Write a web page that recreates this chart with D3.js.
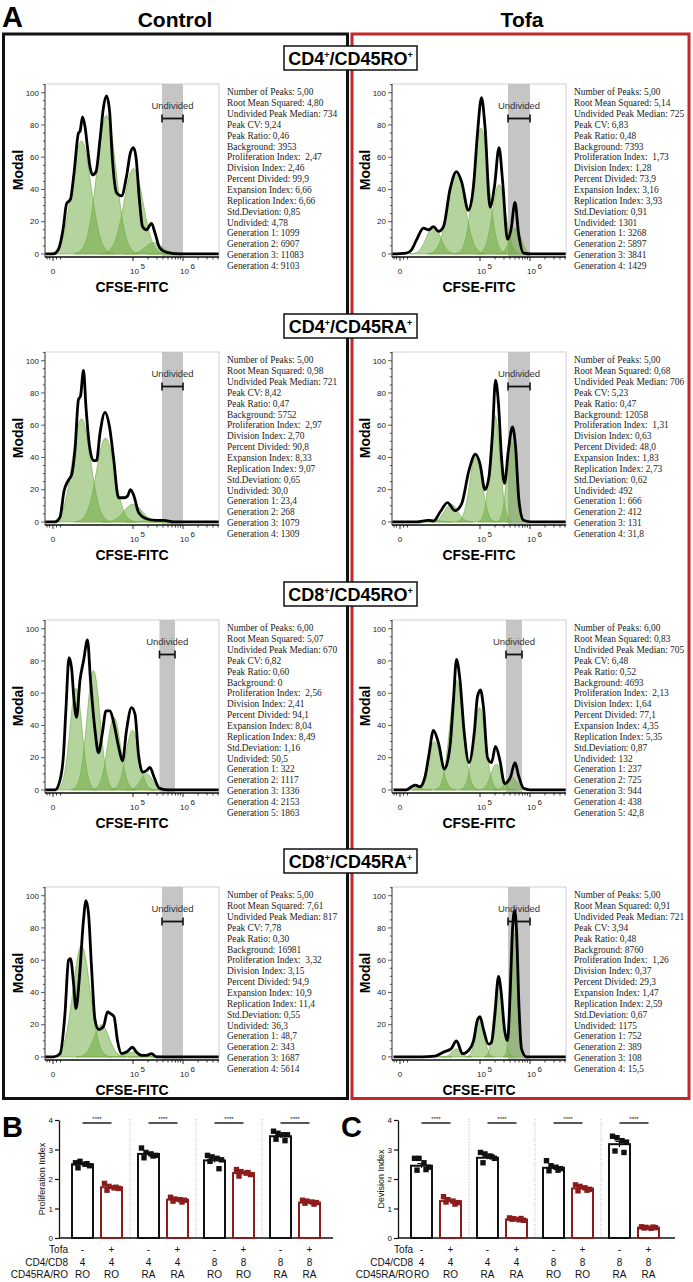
<!DOCTYPE html>
<html><head><meta charset="utf-8">
<script src="https://cdn.jsdelivr.net/npm/d3@7"></script>
<style>body{margin:0;background:#fff}svg{display:block}</style>
</head><body>
<svg id="c" width="693" height="1282"></svg>
<script>
// ---------------- DATA ----------------
const conditions = ["Control", "Tofa"];
const subsets = [["CD4", "CD45RO"], ["CD4", "CD45RA"], ["CD8", "CD45RO"], ["CD8", "CD45RA"]];

// histogram x values are log10 CFSE-FITC (display units), y = Modal (%)
const curveCtrlCD4RO = [[3.24,0],[3.41,0],[3.51,3],[3.61,17],[3.67,31],[3.75,34],[3.82,50],[3.91,75],[3.94,76],[3.99,85],[4.04,79],[4.09,66],[4.14,54],[4.19,49],[4.26,51],[4.34,71],[4.41,91],[4.47,98],[4.53,89],[4.59,58],[4.67,38],[4.77,36],[4.87,48],[4.95,63],[5.01,66],[5.06,60],[5.13,33],[5.19,17],[5.27,15],[5.37,19],[5.44,13],[5.53,4],[5.67,1],[5.94,0],[6.72,0]];
const curveTofaCD4RO = [[3.23,0],[3.53,0.5],[3.63,2.5],[3.73,8.7],[3.87,16],[3.97,15],[4.07,17],[4.17,14],[4.27,17],[4.40,40],[4.53,51],[4.63,45],[4.77,27],[4.87,42],[4.95,75],[5.03,97],[5.10,79],[5.20,29],[5.29,42],[5.38,66],[5.45,46],[5.55,9],[5.62,15],[5.70,32],[5.77,13],[5.87,0.5],[6.03,0],[6.72,0]];
const curveCtrlCD4RA = [[3.24,0],[3.44,0],[3.54,3],[3.62,19],[3.71,26],[3.77,29],[3.84,45],[3.91,76],[3.95,78],[4.01,94],[4.06,71],[4.13,47],[4.21,38],[4.27,38],[4.34,55],[4.44,68],[4.53,59],[4.61,40],[4.71,15],[4.82,15],[4.89,16],[4.95,20],[5.02,16],[5.11,6],[5.27,2],[5.47,1],[5.61,1],[5.81,0],[6.72,0]];
const curveTofaCD4RA = [[3.23,0],[3.73,0],[3.97,1],[4.07,0.5],[4.2,6],[4.35,12],[4.5,7],[4.63,11],[4.78,32],[4.91,42],[5.0,36],[5.1,20],[5.18,28],[5.25,55],[5.31,88],[5.37,73],[5.43,40],[5.49,24],[5.57,45],[5.65,59],[5.71,47],[5.78,13],[5.87,1],[6.03,0],[6.72,0]];
const curveCtrlCD8RO = [[3.24,0],[3.44,0],[3.54,6],[3.61,22],[3.66,51],[3.72,82],[3.77,76],[3.82,56],[3.87,45],[3.94,68],[4.01,80],[4.09,93],[4.15,68],[4.24,37],[4.31,23],[4.39,36],[4.46,49],[4.54,49],[4.62,41],[4.71,27],[4.79,18],[4.87,37],[4.97,51],[5.04,47],[5.11,22],[5.19,11],[5.27,12],[5.34,14],[5.42,8],[5.53,1],[5.71,0],[6.72,0]];
const curveTofaCD8RO = [[3.27,0],[3.53,0],[3.63,2],[3.71,3],[3.8,2],[3.9,8],[3.98,22],[4.07,37],[4.17,29],[4.29,13],[4.4,27],[4.47,56],[4.53,81],[4.6,68],[4.68,37],[4.78,17],[4.89,37],[4.95,58],[5.01,62],[5.07,51],[5.15,20],[5.23,17],[5.31,27],[5.4,18],[5.49,4],[5.61,8],[5.7,17],[5.77,9],[5.87,1],[6.0,0],[6.72,0]];
const curveCtrlCD8RA = [[3.24,0],[3.41,0],[3.54,2],[3.64,27],[3.71,60],[3.75,61],[3.81,46],[3.86,30],[3.93,50],[4.01,85],[4.06,97],[4.11,89],[4.17,56],[4.24,23],[4.31,17],[4.41,19],[4.49,28],[4.54,27],[4.62,25],[4.69,10],[4.77,2],[4.87,3],[4.99,6],[5.07,3],[5.17,1],[5.27,1],[5.37,2],[5.47,0],[5.81,0],[6.72,0]];
const curveTofaCD8RA = [[3.27,0],[3.83,0],[4.1,0.5],[4.27,3],[4.42,5],[4.53,10],[4.65,2],[4.77,4],[4.87,10],[4.95,23],[5.0,25],[5.07,17],[5.17,8],[5.23,9],[5.3,27],[5.37,50],[5.42,41],[5.49,17],[5.55,10],[5.6,37],[5.65,79],[5.69,91],[5.73,79],[5.78,31],[5.83,5],[5.93,0],[6.72,0]];

// fitted generation peaks: [centre (log10), height (Modal), sd (log10)]
const peaksCtrlCD4RO = [[3.97,70,0.19],[4.47,86,0.19],[5.01,53,0.19],[5.42,7,0.17],[5.8,1,0.15]];
const peaksTofaCD4RO = [[4.07,17,0.14],[4.53,51,0.17],[5.02,78,0.15],[5.38,43,0.13],[5.71,16,0.11]];
const peaksCtrlCD4RA = [[3.97,64,0.18],[4.45,52,0.18],[5.0,11,0.18],[5.47,1.5,0.18],[5.8,0.5,0.15]];
const peaksTofaCD4RA = [[4.02,1.5,0.13],[4.42,11,0.13],[4.92,42,0.12],[5.3,66,0.1],[5.63,50,0.09]];
const peaksCtrlCD8RO = [[3.86,63,0.12],[4.21,74,0.13],[4.62,45,0.13],[4.99,37,0.13],[5.27,10,0.12],[5.67,0.6,0.1]];
const peaksTofaCD8RO = [[3.7,2,0.1],[4.09,30,0.13],[4.53,68,0.13],[4.99,51,0.12],[5.33,16,0.11],[5.63,8,0.11]];
const peaksCtrlCD8RA = [[3.97,69,0.17],[4.37,20,0.15],[5.01,3,0.15],[5.41,0.8,0.15],[5.94,0.3,0.15]];
const peaksTofaCD8RA = [[4.1,0.5,0.1],[4.53,5,0.09],[5.0,24,0.085],[5.37,50,0.085],[5.69,77,0.065]];

// undivided gates [from, to] in log10 units
const gatesCtrl = [[5.58,6.0],[5.58,6.0],[5.53,5.84],[5.58,6.0]];
const gatesTofa = [[5.56,6.0],[5.56,6.0],[5.52,5.84],[5.56,6.0]];
const gateLabel = "Undivided";
const gateLevel = 84;

const yTicksHist = [0,20,40,60,80,100];
const xMajorHist = [[3.4,"0",""],[5,"10","5"],[6,"10","6"]];
const xMinorHist = [3.28,3.33,3.47,3.55,5.3,5.48,5.6,5.7,5.78,5.85,5.9,5.95,6.3,6.48,6.6,6.7];

const statLabels = ["Number of Peaks","Root Mean Squared","Undivided Peak Median","Peak CV","Peak Ratio","Background","Proliferation Index","Division Index","Percent Divided","Expansion Index","Replication Index","Std.Deviation","Undivided"];
const statsCtrlCD4RO = ["5,00","4,80","734","9,24","0,46","3953"," 2,47","2,46","99,9","6,66","6,66","0,85","4,78","1099","6907","11083","9103"];
const statsTofaCD4RO = ["5,00","5,14","725","6,83","0,48","7393"," 1,73","1,28","73,9","3,16","3,93","0,91","1301","3268","5897","3841","1429"];
const statsCtrlCD4RA = ["5,00","0,98","721","8,42","0,47","5752"," 2,97","2,70","90,8","8,33","9,07","0,65","30,0","23,4","268","1079","1309"];
const statsTofaCD4RA = ["5,00","0,68","706","5,23","0,47","12058"," 1,31","0,63","48,0","1,83","2,73","0,62","492","666","412","131","31,8"];
const statsCtrlCD8RO = ["6,00","5,07","670","6,82","0,60","0"," 2,56","2,41","94,1","8,04","8,49","1,16","50,5","322","1117","1336","2153","1863"];
const statsTofaCD8RO = ["6,00","0,83","705","6,48","0,52","4693"," 2,13","1,64","77,1","4,35","5,35","0,87","132","237","725","944","438","42,8"];
const statsCtrlCD8RA = ["5,00","7,61","817","7,78","0,30","16981"," 3,32","3,15","94,9","10,9","11,4","0,55","36,3","48,7","343","1687","5614"];
const statsTofaCD8RA = ["5,00","0,91","721","3,94","0,48","8760"," 1,26","0,37","29,3","1,47","2,59","0,67","1175","752","389","108","15,5"];

// bar charts B (Proliferation Index) and C (Devision Index)
const barGroups = ["4 RO","4 RA","8 RO","8 RA"];
const profCtrl = [2.50, 2.85, 2.63, 3.45];
const profTofa = [1.72, 1.30, 2.20, 1.20];
const profCtrlPts = [[2.55,2.6,2.5,2.45,2.38,2.52],[3.05,2.9,2.85,2.8,2.72,2.78],[2.8,2.75,2.7,2.65,2.6,2.35],[3.62,3.55,3.5,3.5,3.35,3.3]];
const profTofaPts = [[1.85,1.75,1.7,1.68,1.62,1.72],[1.38,1.32,1.3,1.28,1.25,1.22],[2.32,2.25,2.2,2.15,2.1,2.22],[1.28,1.25,1.22,1.2,1.18,1.15]];
const divCtrl = [2.45, 2.72, 2.38, 3.18];
const divTofa = [1.25, 0.63, 1.68, 0.35];
const divCtrlPts = [[2.7,2.7,2.55,2.4,2.3,2.32],[2.9,2.85,2.78,2.7,2.55,2.75],[2.62,2.45,2.4,2.35,2.28,2.3],[3.45,3.4,3.3,3.25,2.95,2.9]];
const divTofaPts = [[1.4,1.3,1.25,1.2,1.22,1.15],[0.68,0.65,0.62,0.6,0.64,0.66],[1.8,1.75,1.7,1.65,1.6,1.62],[0.38,0.36,0.33,0.35,0.34,0.37]];
const barYTicks = [0,1,2,3,4];
const sigLabel = "****";
const rowLabels = ["Tofa","CD4/CD8","CD45RA/RO"];
const rowTofa = ["-","+","-","+","-","+","-","+"];
const rowCD = ["4","4","4","4","8","8","8","8"];
const rowRARO = ["RO","RO","RA","RA","RO","RO","RA","RA"];

// ---------------- DRAWING ----------------
const SANS = "'Liberation Sans', Arial, sans-serif";
const SERIF = "'Liberation Serif', 'Times New Roman', serif";
const RED = "#c1272d", DRED = "#8c1c1c";
const svg = d3.select("#c");

svg.append("text").attr("x",2).attr("y",27).attr("font-family",SANS).attr("font-weight","bold").attr("font-size",29).text("A");
const condX = [175, 522];
conditions.forEach((c,i)=>svg.append("text").attr("x",condX[i]).attr("y",27).attr("text-anchor","middle")
  .attr("font-family",SANS).attr("font-weight","bold").attr("font-size",21).text(c));

svg.append("rect").attr("x",3.5).attr("y",34).attr("width",344).attr("height",1064.5)
  .attr("fill","none").attr("stroke","#111").attr("stroke-width",3);
svg.append("rect").attr("x",352).attr("y",34).attr("width",337).attr("height",1064.5)
  .attr("fill","none").attr("stroke",RED).attr("stroke-width",3);

const W = 174, H = 173;
const xH = d3.scaleLinear().domain([3.24, 6.72]).range([0, W]);
const yH = d3.scaleLinear().domain([-1.9, 105.4]).range([H, 0]);
svg.append("defs").append("clipPath").attr("id","clipH").append("rect").attr("width",W).attr("height",H);

const areaH = d3.area().x(d=>xH(d[0])).y0(yH(0)).y1(d=>yH(d[1])).curve(d3.curveMonotoneX);
const lineH = d3.line().x(d=>xH(d[0])).y(d=>yH(d[1])).curve(d3.curveMonotoneX);
function bell(p){ const [c,h,s]=p; const pts=[]; for(let i=-17;i<=17;i++){const t=i*0.2; pts.push([c+t*s, h*Math.exp(-t*t/2)]);} return pts; }

const panelTops = [84, 352, 620, 887];
const frameLefts = [45, 392];
const curves = [[curveCtrlCD4RO,curveTofaCD4RO],[curveCtrlCD4RA,curveTofaCD4RA],[curveCtrlCD8RO,curveTofaCD8RO],[curveCtrlCD8RA,curveTofaCD8RA]];
const peaks = [[peaksCtrlCD4RO,peaksTofaCD4RO],[peaksCtrlCD4RA,peaksTofaCD4RA],[peaksCtrlCD8RO,peaksTofaCD8RO],[peaksCtrlCD8RA,peaksTofaCD8RA]];
const stats = [[statsCtrlCD4RO,statsTofaCD4RO],[statsCtrlCD4RA,statsTofaCD4RA],[statsCtrlCD8RO,statsTofaCD8RO],[statsCtrlCD8RA,statsTofaCD8RA]];
const gates = [gatesCtrl, gatesTofa];

panelTops.forEach((top, r) => {
  frameLefts.forEach((left, c) => {
    const g = svg.append("g").attr("transform",`translate(${left},${top})`);
    const gate = gates[c][r];
    const inner = g.append("g").attr("clip-path","url(#clipH)");
    inner.append("rect").attr("x",xH(gate[0])).attr("y",0).attr("width",xH(gate[1])-xH(gate[0])).attr("height",H).attr("fill","#c5c5c5");
    peaks[r][c].forEach(p => {
      inner.append("path").attr("d",areaH(bell(p))).attr("fill","#6aa83c").attr("fill-opacity",0.5)
        .attr("stroke","#78b548").attr("stroke-width",0.7);
    });
    inner.append("path").attr("d",lineH(curves[r][c])).attr("fill","none").attr("stroke","#000")
      .attr("stroke-width",2.8).attr("stroke-linejoin","round");
    g.append("rect").attr("width",W).attr("height",H).attr("fill","none").attr("stroke","#c4c4c4").attr("stroke-width",0.8);
    // y axis
    g.append("line").attr("x1",0).attr("x2",0).attr("y1",0).attr("y2",H).attr("stroke","#333").attr("stroke-width",0.9);
    for (let v=0; v<=105; v+=5) {
      const major = yTicksHist.includes(v);
      g.append("line").attr("x1",major?-4:-2.2).attr("x2",0).attr("y1",yH(v)).attr("y2",yH(v)).attr("stroke","#333").attr("stroke-width",0.8);
    }
    yTicksHist.forEach(v => g.append("text").attr("x",-6).attr("y",yH(v)+2.8).attr("text-anchor","end")
      .attr("font-family",SANS).attr("font-size",8).attr("fill","#222").text(v));
    // x axis
    g.append("line").attr("x1",0).attr("x2",W).attr("y1",H).attr("y2",H).attr("stroke","#111").attr("stroke-width",1.4);
    xMinorHist.forEach(v => g.append("line").attr("x1",xH(v)).attr("x2",xH(v)).attr("y1",H).attr("y2",H+2.5).attr("stroke","#111").attr("stroke-width",0.8));
    xMajorHist.forEach(([v,base,sup]) => {
      g.append("line").attr("x1",xH(v)).attr("x2",xH(v)).attr("y1",H).attr("y2",H+4).attr("stroke","#111").attr("stroke-width",0.9);
      const t = g.append("text").attr("font-family",SANS).attr("font-size",8).attr("fill","#222").attr("y",H+17);
      if (sup) {
        t.attr("x",xH(v)-3);
        t.append("tspan").text(base);
        t.append("tspan").attr("dx",1.5).attr("dy",-5).attr("font-size",8).text(sup);
      } else {
        t.attr("x",xH(v)).attr("text-anchor","middle").text(base);
      }
    });
    // gate bracket
    const gy = yH(gateLevel);
    g.append("line").attr("x1",xH(gate[0])).attr("x2",xH(gate[1])).attr("y1",gy).attr("y2",gy).attr("stroke","#111").attr("stroke-width",1.8);
    [gate[0],gate[1]].forEach(v => g.append("line").attr("x1",xH(v)).attr("x2",xH(v)).attr("y1",gy-4).attr("y2",gy+4).attr("stroke","#111").attr("stroke-width",1.6));
    g.append("text").attr("x",(xH(gate[0])+xH(gate[1]))/2).attr("y",gy-10).attr("text-anchor","middle")
      .attr("font-family",SANS).attr("font-size",9.5).attr("fill","#333").text(gateLabel);
    // labels
    g.append("text").attr("transform",`translate(-22,86) rotate(-90)`).attr("text-anchor","middle")
      .attr("font-family",SANS).attr("font-weight","bold").attr("font-size",14).text("Modal");
    g.append("text").attr("x",87).attr("y",H+35).attr("text-anchor","middle")
      .attr("font-family",SANS).attr("font-weight","bold").attr("font-size",14).text("CFSE-FITC");
    // stats
    stats[r][c].forEach((val, i) => {
      const lab = i < statLabels.length ? statLabels[i] : "Generation " + (i - statLabels.length + 1);
      g.append("text").attr("x",182).attr("y",11.3 + i*10.85).attr("xml:space","preserve")
        .attr("font-family",SERIF).attr("font-size",9.4).attr("fill","#222").text(lab + ": " + val);
    });
  });
  // header box
  const hy = top - 38;
  svg.append("rect").attr("x",284).attr("y",hy).attr("width",133).attr("height",24)
    .attr("fill","#fff").attr("stroke","#111").attr("stroke-width",1.5);
  const ht = svg.append("text").attr("x",350.5).attr("y",hy+19).attr("text-anchor","middle")
    .attr("font-family",SANS).attr("font-weight","bold").attr("font-size",18);
  ht.append("tspan").text(subsets[r][0]);
  ht.append("tspan").attr("font-size",9).attr("dy",-7).text("+");
  ht.append("tspan").attr("dy",7).text("/" + subsets[r][1]);
  ht.append("tspan").attr("font-size",9).attr("dy",-7).text("+");
});

// ---------- bar charts ----------
const yB = d3.scaleLinear().domain([0,4]).range([1238,1120]);
const jitter = [-7,-2.5,2.5,7,-4.5,4.5];
function barChart(x0, letter, yLabel, ctrl, tofa, ctrlPts, tofaPts, labelEnd, axisEnd) {
  svg.append("text").attr("x",x0 - 57).attr("y",1137).attr("font-family",SANS).attr("font-weight","bold").attr("font-size",29).text(letter);
  const gx = d3.scaleBand().domain(d3.range(barGroups.length)).range([x0+5, x0+5+264]);
  const inner = d3.scalePoint().domain(["ctrl","tofa"]).range([18.5, 47.5]);
  for (let i=1;i<barGroups.length;i++) {
    svg.append("line").attr("x1",gx(i)).attr("x2",gx(i)).attr("y1",1119).attr("y2",1238)
      .attr("stroke","#aaa").attr("stroke-width",0.8).attr("stroke-dasharray","1,1.5");
  }
  const ax = svg.append("g").attr("transform",`translate(${x0},0)`)
    .call(d3.axisLeft(yB).tickValues(barYTicks).tickSize(4).tickSizeOuter(0).tickPadding(2).tickFormat(d3.format("d")));
  ax.select(".domain").attr("stroke","#111").attr("stroke-width",1.3);
  ax.selectAll(".tick line").attr("stroke","#111").attr("stroke-width",1.2);
  ax.selectAll(".tick text").attr("font-family",SANS).attr("font-size",8).attr("fill","#111");
  svg.append("line").attr("x1",x0).attr("x2",axisEnd).attr("y1",yB(0)).attr("y2",yB(0)).attr("stroke","#111").attr("stroke-width",1.3);
  svg.append("text").attr("transform",`translate(${x0-14},${yB(2)}) rotate(-90)`).attr("text-anchor","middle")
    .attr("font-family",SANS).attr("font-size",9).attr("fill","#111").text(yLabel);
  barGroups.forEach((grp, i) => {
    const cx = gx(i) + inner("ctrl"), tx = gx(i) + inner("tofa");
    [[cx, ctrl[i], ctrlPts[i], "#111"], [tx, tofa[i], tofaPts[i], DRED]].forEach(([x, m, pts, col]) => {
      svg.append("rect").attr("x",x-10.5).attr("y",yB(m)).attr("width",21).attr("height",yB(0)-yB(m))
        .attr("fill","#fff").attr("stroke",col).attr("stroke-width",2);
      const sem = d3.deviation(pts)/Math.sqrt(pts.length);
      svg.append("line").attr("x1",x).attr("x2",x).attr("y1",yB(m-sem)).attr("y2",yB(m+sem)).attr("stroke",col).attr("stroke-width",1.2);
      svg.append("line").attr("x1",x-4).attr("x2",x+4).attr("y1",yB(m+sem)).attr("y2",yB(m+sem)).attr("stroke",col).attr("stroke-width",1.2);
      pts.forEach((v, k) => svg.append("rect").attr("x",x+jitter[k]-2.7).attr("y",yB(v)-2.7).attr("width",5.4).attr("height",5.4).attr("fill",col));
    });
    svg.append("line").attr("x1",cx).attr("x2",tx).attr("y1",1123).attr("y2",1123).attr("stroke","#111").attr("stroke-width",1.4);
    svg.append("text").attr("x",(cx+tx)/2).attr("y",1121).attr("text-anchor","middle").attr("font-family",SANS).attr("font-size",6).attr("fill","#111").text(sigLabel);
  });
  const centers = [];
  barGroups.forEach((grp,i) => { centers.push(gx(i)+inner("ctrl")); centers.push(gx(i)+inner("tofa")); });
  const rows = [rowTofa, rowCD, rowRARO];
  const rowY = [1253, 1265.5, 1278];
  rows.forEach((row, j) => {
    svg.append("text").attr("x",labelEnd).attr("y",rowY[j]).attr("text-anchor","end").attr("font-family",SANS).attr("font-size",10).attr("fill","#111").text(rowLabels[j]);
    row.forEach((v, k) => svg.append("text").attr("x",centers[k]).attr("y",rowY[j]).attr("text-anchor","middle").attr("font-family",SANS).attr("font-size",10).attr("fill","#111").text(v));
  });
}
barChart(59, "B", "Proliferation Index", profCtrl, profTofa, profCtrlPts, profTofaPts, 68, 333);
barChart(398, "C", "Devision Index", divCtrl, divTofa, divCtrlPts, divTofaPts, 413, 675);
</script>
</body></html>
